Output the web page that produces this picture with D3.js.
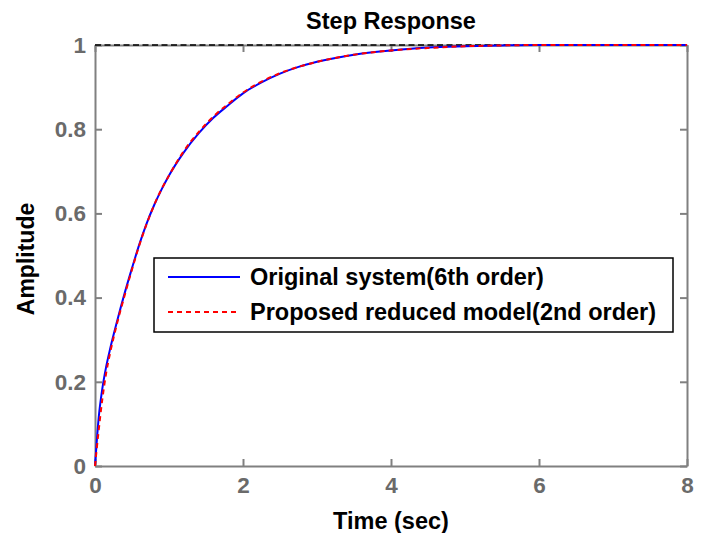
<!DOCTYPE html>
<html>
<head>
<meta charset="utf-8">
<script src="https://cdn.jsdelivr.net/npm/d3@7"></script>
<style>
  body { margin: 0; background: #fff; }
  text { font-family: "Liberation Sans", Arial, sans-serif; font-weight: bold; }
  .axis path, .axis line { stroke: #808080; stroke-width: 2; }
  .axis text { fill: #6a6a6a; font-size: 22.5px; }
</style>
</head>
<body>
<div id="chart"></div>
<script>
// time samples (sec)
var time = [0, 0.05, 0.1, 0.15, 0.2, 0.3, 0.4, 0.5, 0.6, 0.7, 0.8, 0.9, 1.0, 1.2, 1.4, 1.6, 1.8, 2.0, 2.25, 2.5, 2.75, 3.0, 3.5, 4.0, 4.5, 5.0, 5.5, 6, 7, 8];
var original = [0, 0.115, 0.185, 0.235, 0.275, 0.345, 0.41, 0.47, 0.527, 0.577, 0.62, 0.657, 0.69, 0.745, 0.79, 0.827, 0.857, 0.885, 0.911, 0.932, 0.948, 0.96, 0.977, 0.987, 0.994, 0.997, 0.999, 1, 1, 1];
var reduced = [0, 0.085, 0.16, 0.22, 0.265, 0.34, 0.405, 0.467, 0.525, 0.576, 0.62, 0.658, 0.69, 0.748, 0.793, 0.83, 0.86, 0.887, 0.913, 0.933, 0.948, 0.96, 0.977, 0.987, 0.993, 0.997, 0.999, 1, 1, 1];
var xTicks = [0, 2, 4, 6, 8];
var yTicks = [0, 0.2, 0.4, 0.6, 0.8, 1];
var seriesNames = ['Original system(6th order)', 'Proposed reduced model(2nd order)'];

var width = 707,
    height = 533,
    margin = { left: 95, right: 20, top: 45, bottom: 67 };

var svg = d3.select('#chart').append('svg')
    .attr('width', width)
    .attr('height', height);

var x = d3.scaleLinear().domain([0, 8]).range([margin.left, width - margin.right]);
var y = d3.scaleLinear().domain([0, 1]).range([height - margin.bottom, margin.top]);

// box: top and right axes (ticks only, no labels)
svg.append('g').attr('class', 'axis')
    .attr('transform', 'translate(0,' + y(1) + ')')
    .call(d3.axisTop(x).tickValues(xTicks).tickSizeInner(-7).tickSizeOuter(0).tickFormat(''));
svg.append('g').attr('class', 'axis')
    .attr('transform', 'translate(' + x(8) + ',0)')
    .call(d3.axisRight(y).tickValues(yTicks).tickSizeInner(-7).tickSizeOuter(0).tickFormat(''));

// bottom and left axes
svg.append('g').attr('class', 'axis')
    .attr('transform', 'translate(0,' + y(0) + ')')
    .call(d3.axisBottom(x).tickValues(xTicks).tickSizeInner(-7).tickSizeOuter(0).tickPadding(11));
svg.append('g').attr('class', 'axis')
    .attr('transform', 'translate(' + x(0) + ',0)')
    .call(d3.axisLeft(y).tickValues(yTicks).tickSizeInner(-7).tickSizeOuter(0).tickPadding(9)
        .tickFormat(function(d) { return d; }));

// steady state line
svg.append('line')
    .attr('x1', x(0)).attr('x2', x(8))
    .attr('y1', y(1)).attr('y2', y(1))
    .attr('stroke', '#000')
    .attr('stroke-width', 1.5)
    .attr('stroke-dasharray', '6,3.5');

var line = d3.line()
    .x(function(d, i) { return x(time[i]); })
    .y(function(d) { return y(d); })
    .curve(d3.curveMonotoneX);

svg.append('path')
    .datum(original)
    .attr('d', line)
    .attr('fill', 'none')
    .attr('stroke', '#0000ff')
    .attr('stroke-width', 2);

svg.append('path')
    .datum(reduced)
    .attr('d', line)
    .attr('fill', 'none')
    .attr('stroke', '#ff0000')
    .attr('stroke-width', 2)
    .attr('stroke-dasharray', '5,4');

// title and axis labels
svg.append('text')
    .attr('x', (x(0) + x(8)) / 2)
    .attr('y', 29)
    .attr('text-anchor', 'middle')
    .style('font-size', '23.5px')
    .text('Step Response');

svg.append('text')
    .attr('x', (x(0) + x(8)) / 2)
    .attr('y', 529)
    .attr('text-anchor', 'middle')
    .style('font-size', '23.5px')
    .text('Time (sec)');

svg.append('text')
    .attr('transform', 'translate(34,' + 259 + ') rotate(-90)')
    .attr('text-anchor', 'middle')
    .style('font-size', '23px')
    .text('Amplitude');

// legend
var legend = svg.append('g').attr('transform', 'translate(154,258)');
legend.append('rect')
    .attr('width', 519)
    .attr('height', 74)
    .attr('fill', '#fff')
    .attr('stroke', '#000')
    .attr('stroke-width', 1.5);

var styles = [
    { color: '#0000ff', dash: null },
    { color: '#ff0000', dash: '5,4' }
];

var rows = legend.selectAll('.row')
    .data(seriesNames)
    .enter().append('g')
    .attr('class', 'row')
    .attr('transform', function(d, i) { return 'translate(0,' + (19 + i * 35) + ')'; });

rows.append('line')
    .attr('x1', 14).attr('x2', 86)
    .attr('y1', 0).attr('y2', 0)
    .attr('stroke', function(d, i) { return styles[i].color; })
    .attr('stroke-width', 2)
    .attr('stroke-dasharray', function(d, i) { return styles[i].dash; });

rows.append('text')
    .attr('x', 96)
    .attr('dy', '0.36em')
    .style('font-size', '23.5px')
    .attr('fill', '#000')
    .text(function(d) { return d; });
</script>
</body>
</html>
